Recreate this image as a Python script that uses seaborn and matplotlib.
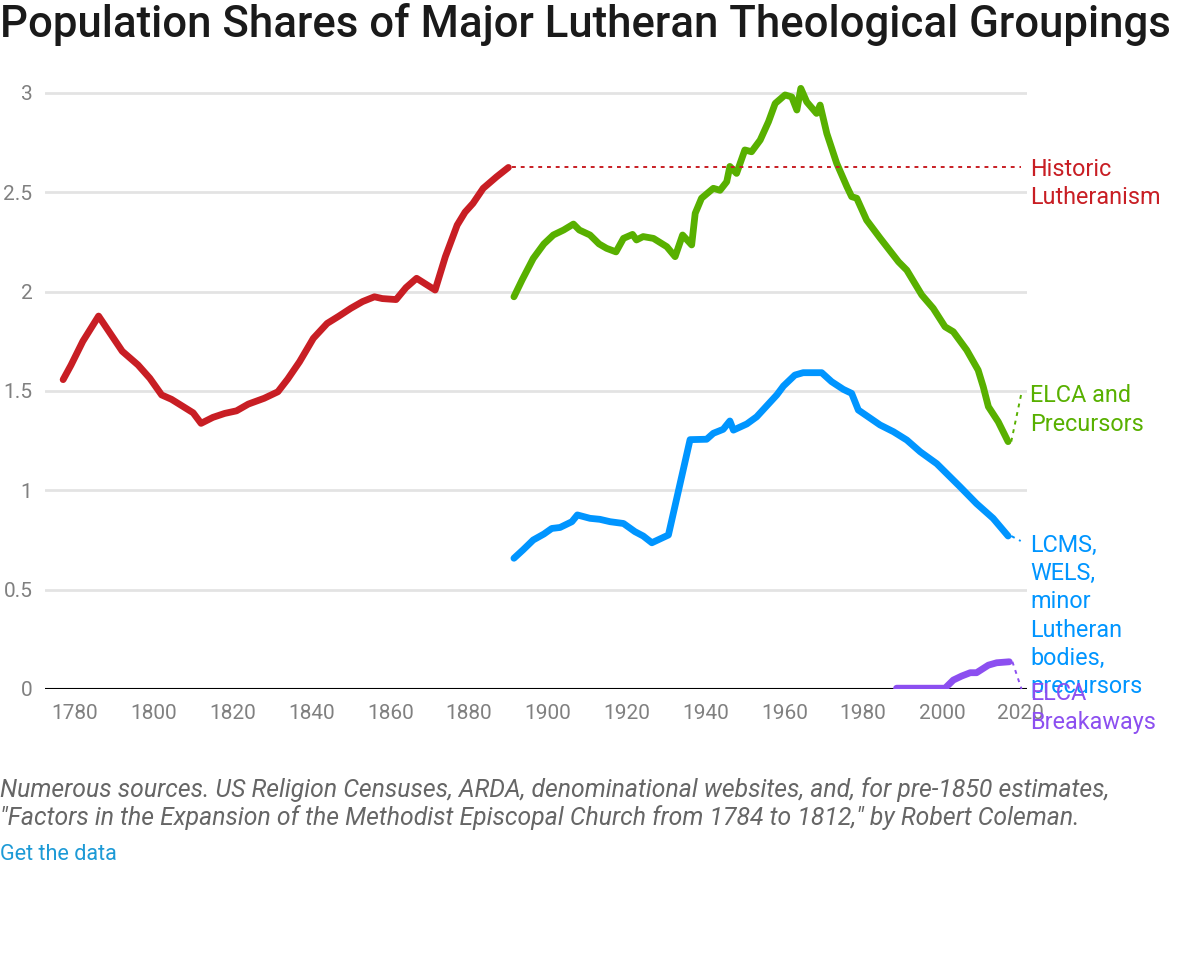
import numpy as np
import pandas as pd
import matplotlib
matplotlib.use("Agg")
import matplotlib.pyplot as plt
import seaborn as sns

# =========================
# data
# =========================
historic_years = [1777, 1779, 1782, 1786, 1792, 1796, 1799, 1802, 1804.5, 1807.5, 1810, 1812,
                  1815, 1818, 1821, 1824, 1828, 1831.5, 1834, 1837, 1840.5, 1844, 1847, 1850,
                  1853, 1856, 1858, 1861.5, 1864, 1866.7, 1871.4, 1874, 1877, 1879, 1881,
                  1883.6, 1887, 1890]
historic_vals = [1.557, 1.63, 1.75, 1.877, 1.70, 1.631, 1.564, 1.48, 1.458, 1.421, 1.39, 1.337,
                 1.367, 1.387, 1.40, 1.434, 1.463, 1.496, 1.56, 1.647, 1.765, 1.84, 1.877, 1.916,
                 1.95, 1.974, 1.965, 1.96, 2.02, 2.067, 2.008, 2.176, 2.335, 2.40, 2.444,
                 2.52, 2.578, 2.625]

elca_years = [1891.4, 1893.5, 1896.3, 1899, 1901.4, 1904, 1906.5, 1908, 1910.7, 1913, 1914.9,
              1917.3, 1919.2, 1921.5, 1922.5, 1924.2, 1926.8, 1930.2, 1932.3, 1934.2, 1936.5,
              1937.4, 1939, 1942, 1943.7, 1945.4, 1946.2, 1947.9, 1950, 1951.7, 1953.9, 1956,
              1957.7, 1960.2, 1961.9, 1963.2, 1964.2, 1965.7, 1968.2, 1969.1, 1970.8, 1973.3,
              1975.9, 1977.1, 1978.4, 1980.9, 1984.3, 1989, 1991.1, 1994.9, 1997.8, 2000.8,
              2002.9, 2006.3, 2009.2, 2010.5, 2011.8, 2014.3, 2016.8]
elca_vals = [1.974, 2.06, 2.167, 2.24, 2.285, 2.31, 2.34, 2.31, 2.285, 2.24, 2.218,
             2.20, 2.268, 2.288, 2.26, 2.277, 2.268, 2.226, 2.176, 2.285, 2.235,
             2.394, 2.47, 2.52, 2.51, 2.553, 2.63, 2.595, 2.713, 2.704, 2.763, 2.855,
             2.947, 2.99, 2.98, 2.914, 3.023, 2.955, 2.897, 2.939, 2.796, 2.646,
             2.528, 2.478, 2.47, 2.36, 2.27, 2.15, 2.108, 1.983, 1.916, 1.823,
             1.798, 1.706, 1.605, 1.521, 1.421, 1.345, 1.245]

lcms_years = [1891.4, 1893.7, 1896.3, 1899, 1901, 1903.1, 1906.1, 1907.5, 1910.7, 1913.2,
              1915.8, 1919.2, 1922.1, 1924.2, 1926.4, 1930.6, 1936.1, 1940.3, 1942, 1944.5,
              1946.2, 1947.1, 1950.5, 1953, 1958.1, 1959.8, 1962.7, 1964.8, 1969.5, 1972,
              1975, 1977.1, 1978.8, 1981.3, 1984.3, 1987.7, 1991.1, 1994.5, 1998.7, 2004.6,
              2008.8, 2013, 2016.8]
lcms_vals = [0.658, 0.70, 0.75, 0.78, 0.808, 0.813, 0.842, 0.876, 0.859, 0.854,
             0.842, 0.833, 0.792, 0.77, 0.736, 0.775, 1.255, 1.257, 1.287, 1.307,
             1.349, 1.303, 1.334, 1.37, 1.48, 1.525, 1.58, 1.592, 1.592, 1.547,
             1.508, 1.488, 1.404, 1.37, 1.329, 1.295, 1.253, 1.194, 1.134, 1.018,
             0.933, 0.859, 0.77]

breakaway_years = [1988.5, 2000.8, 2002.9, 2005, 2007.2, 2008.8, 2011.8, 2013.9, 2017.1]
breakaway_vals = [0.004, 0.004, 0.045, 0.065, 0.082, 0.082, 0.12, 0.132, 0.137]

series_names = ["Historic\nLutheranism", "ELCA and\nPrecursors",
                "LCMS,\nWELS,\nminor\nLutheran\nbodies,\nprecursors", "ELCA\nBreakaways"]
series_colors = ["#c81e24", "#58b000", "#0095ff", "#8c4ff0"]
# where each label's leader line ends (year, value) and label centre value
label_anchor = [(2020.0, 2.625), (2020.3, 1.50), (2020.0, 0.745), (2020.2, 0.0)]
label_center = [2.545, 1.404, 0.367, -0.096]

x_ticks = list(range(1780, 2021, 20))
y_ticks = [0, 0.5, 1, 1.5, 2, 2.5, 3]
y_ticklabels = ["0", "0.5", "1", "1.5", "2", "2.5", "3"]

df = pd.concat([
    pd.DataFrame({"year": historic_years, "share": historic_vals, "group": series_names[0]}),
    pd.DataFrame({"year": elca_years, "share": elca_vals, "group": series_names[1]}),
    pd.DataFrame({"year": lcms_years, "share": lcms_vals, "group": series_names[2]}),
    pd.DataFrame({"year": breakaway_years, "share": breakaway_vals, "group": series_names[3]}),
])

# =========================
# plot
# =========================
sns.set_style("white")
plt.rcParams["font.family"] = ["Roboto", "DejaVu Sans"]

fig = plt.figure(figsize=(11.8, 9.8), dpi=100)
ax = fig.add_axes([45 / 1180, 1 - 689 / 980, (1027 - 45) / 1180, (689 - 83) / 980])

sns.lineplot(data=df, x="year", y="share", hue="group", palette=series_colors,
             hue_order=series_names, estimator=None, sort=False, linewidth=4.9,
             legend=False, ax=ax, solid_capstyle="round", solid_joinstyle="round")

# leader lines + labels
ends = [(historic_years[-1], historic_vals[-1]), (elca_years[-1], elca_vals[-1]),
        (lcms_years[-1], lcms_vals[-1]), (breakaway_years[-1], breakaway_vals[-1])]
for name, color, (ex, ey), (lx, ly), lc in zip(series_names, series_colors, ends, label_anchor, label_center):
    ax.plot([ex + 0.8, lx], [ey, ly], color=color, linestyle=(0, (2, 2.5)), linewidth=1.4,
            clip_on=False)
    ax.text(2022.4, lc, name, color=color, fontsize=16.8, va="center", ha="left",
            linespacing=1.29, clip_on=False)

ax.set_xlim(1772.4, 2021.6)
ax.set_ylim(0, 3.05)
ax.set_xticks(x_ticks)
ax.set_yticks(y_ticks)
ax.set_yticklabels(y_ticklabels)
ax.tick_params(axis="both", length=0, labelsize=15, labelcolor="#808080")
ax.tick_params(axis="x", pad=11)
ax.tick_params(axis="y", pad=9)
ax.set_xlabel("")
ax.set_ylabel("")
ax.grid(axis="y", color="#e3e3e3", linewidth=2)
ax.grid(axis="x", visible=False)
ax.axhline(0, color="black", linewidth=1.5, zorder=1)
ax.set_axisbelow(True)
sns.despine(ax=ax, left=True, bottom=True)

fig.text(0.0, 1 - 25 / 980, "Population Shares of Major Lutheran Theological Groupings",
         fontsize=31.5, fontweight="medium", color="#1a1a1a", va="center", ha="left")
fig.text(0.0, 1 - 790 / 980,
         "Numerous sources. US Religion Censuses, ARDA, denominational websites, and, for pre-1850 estimates,",
         fontsize=17.8, style="italic", color="#666666", va="center", ha="left")
fig.text(0.0, 1 - 818 / 980,
         "\"Factors in the Expansion of the Methodist Episcopal Church from 1784 to 1812,\" by Robert Coleman.",
         fontsize=17.8, style="italic", color="#666666", va="center", ha="left")
fig.text(0.0, 1 - 854 / 980, "Get the data", fontsize=15.6, color="#1d9ad6",
         va="center", ha="left")

fig.savefig("out.png", dpi=100)
